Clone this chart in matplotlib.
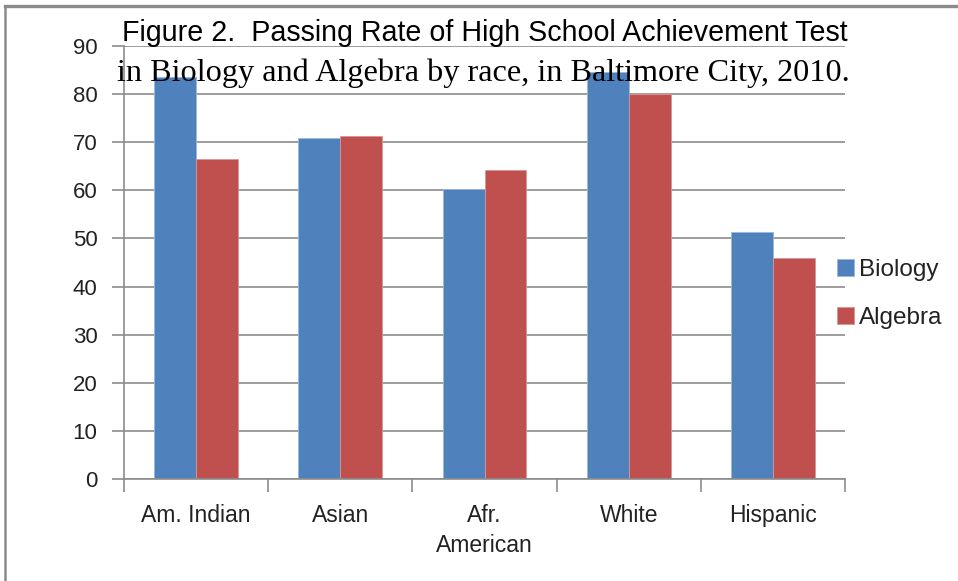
import matplotlib
matplotlib.use('Agg')
import matplotlib.pyplot as plt
from matplotlib.lines import Line2D
import numpy as np

races = ['Am. Indian', 'Asian', 'Afr.\nAmerican', 'White', 'Hispanic']
biology = [83.6, 70.9, 60.3, 84.6, 51.4]
algebra = [66.5, 71.3, 64.2, 80.0, 45.9]
yticks = list(range(0, 100, 10))

title1 = 'Figure 2.  Passing Rate of High School Achievement Test'
title2 = 'in Biology and Algebra by race, in Baltimore City, 2010.'

BLUE = '#4F81BD'
RED = '#C0504D'
GRID = '#8C8C8C'
SANS = 'Liberation Sans'
SERIF = 'Liberation Serif'

fig = plt.figure(figsize=(9.58, 5.81), dpi=100)
ax = fig.add_axes([124 / 958, 1 - 479 / 581, (845 - 124) / 958, (479 - 46) / 581])

x = np.arange(len(races))
w = 0.29
ax.bar(x - w / 2, biology, w, color=BLUE, edgecolor='#9BB7DB', linewidth=0.6,
       label='Biology', zorder=2)
ax.bar(x + w / 2, algebra, w, color=RED, edgecolor='#D99694', linewidth=0.6,
       label='Algebra', zorder=2)

ax.set_xlim(-0.5, len(races) - 0.5)
ax.set_ylim(0, 90)
ax.set_yticks(yticks)
ax.yaxis.grid(True, color=GRID, linewidth=1.2, zorder=0)
ax.set_axisbelow(True)

# category ticks sit on the boundaries between groups, labels in the middle
ax.set_xticks(np.arange(len(races) + 1) - 0.5)
ax.set_xticklabels([])
ax.set_xticks(x, minor=True)
ax.set_xticklabels(races, minor=True, fontsize=16.5, family=SANS, color='#222222',
                   linespacing=1.4, va='top')
ax.tick_params(axis='x', which='minor', length=0, pad=18)
ax.tick_params(axis='x', which='major', length=9, width=1.2, color=GRID)
ax.tick_params(axis='y', length=9, width=1.2, color=GRID, pad=10,
               labelsize=16, labelcolor='#222222')
for lab in ax.get_yticklabels():
    lab.set_family(SANS)

for s in ('top', 'right'):
    ax.spines[s].set_visible(False)
for s in ('left', 'bottom'):
    ax.spines[s].set_color(GRID)
    ax.spines[s].set_linewidth(1.2)

leg = ax.legend(loc='center left', bbox_to_anchor=(837 / 958, 1 - 294 / 581),
                bbox_transform=fig.transFigure, frameon=False,
                prop={'family': SANS, 'size': 17.5}, handlelength=0.7,
                handleheight=0.7, handletextpad=0.2, labelspacing=1.05,
                borderpad=0, borderaxespad=0)
for t in leg.get_texts():
    t.set_color('#222222')

# two-line heading, written over the top of the plot area
fig.text(485 / 958, 1 - 33 / 581, title1, family=SANS, fontsize=20.6,
         ha='center', va='center', color='black', zorder=10)
fig.text(483 / 958, 1 - 73 / 581, title2, family=SERIF, fontsize=23.2,
         ha='center', va='center', color='black', zorder=10)

# frame along the top and left edge
fig.add_artist(Line2D([5 / 958, 1], [1 - 6 / 581] * 2, color='#8A8A8A', lw=2.4,
                      transform=fig.transFigure))
fig.add_artist(Line2D([5 / 958] * 2, [0, 1 - 6 / 581], color='#8A8A8A', lw=1.8,
                      transform=fig.transFigure))

fig.savefig('out.png', dpi=100, facecolor='white')
